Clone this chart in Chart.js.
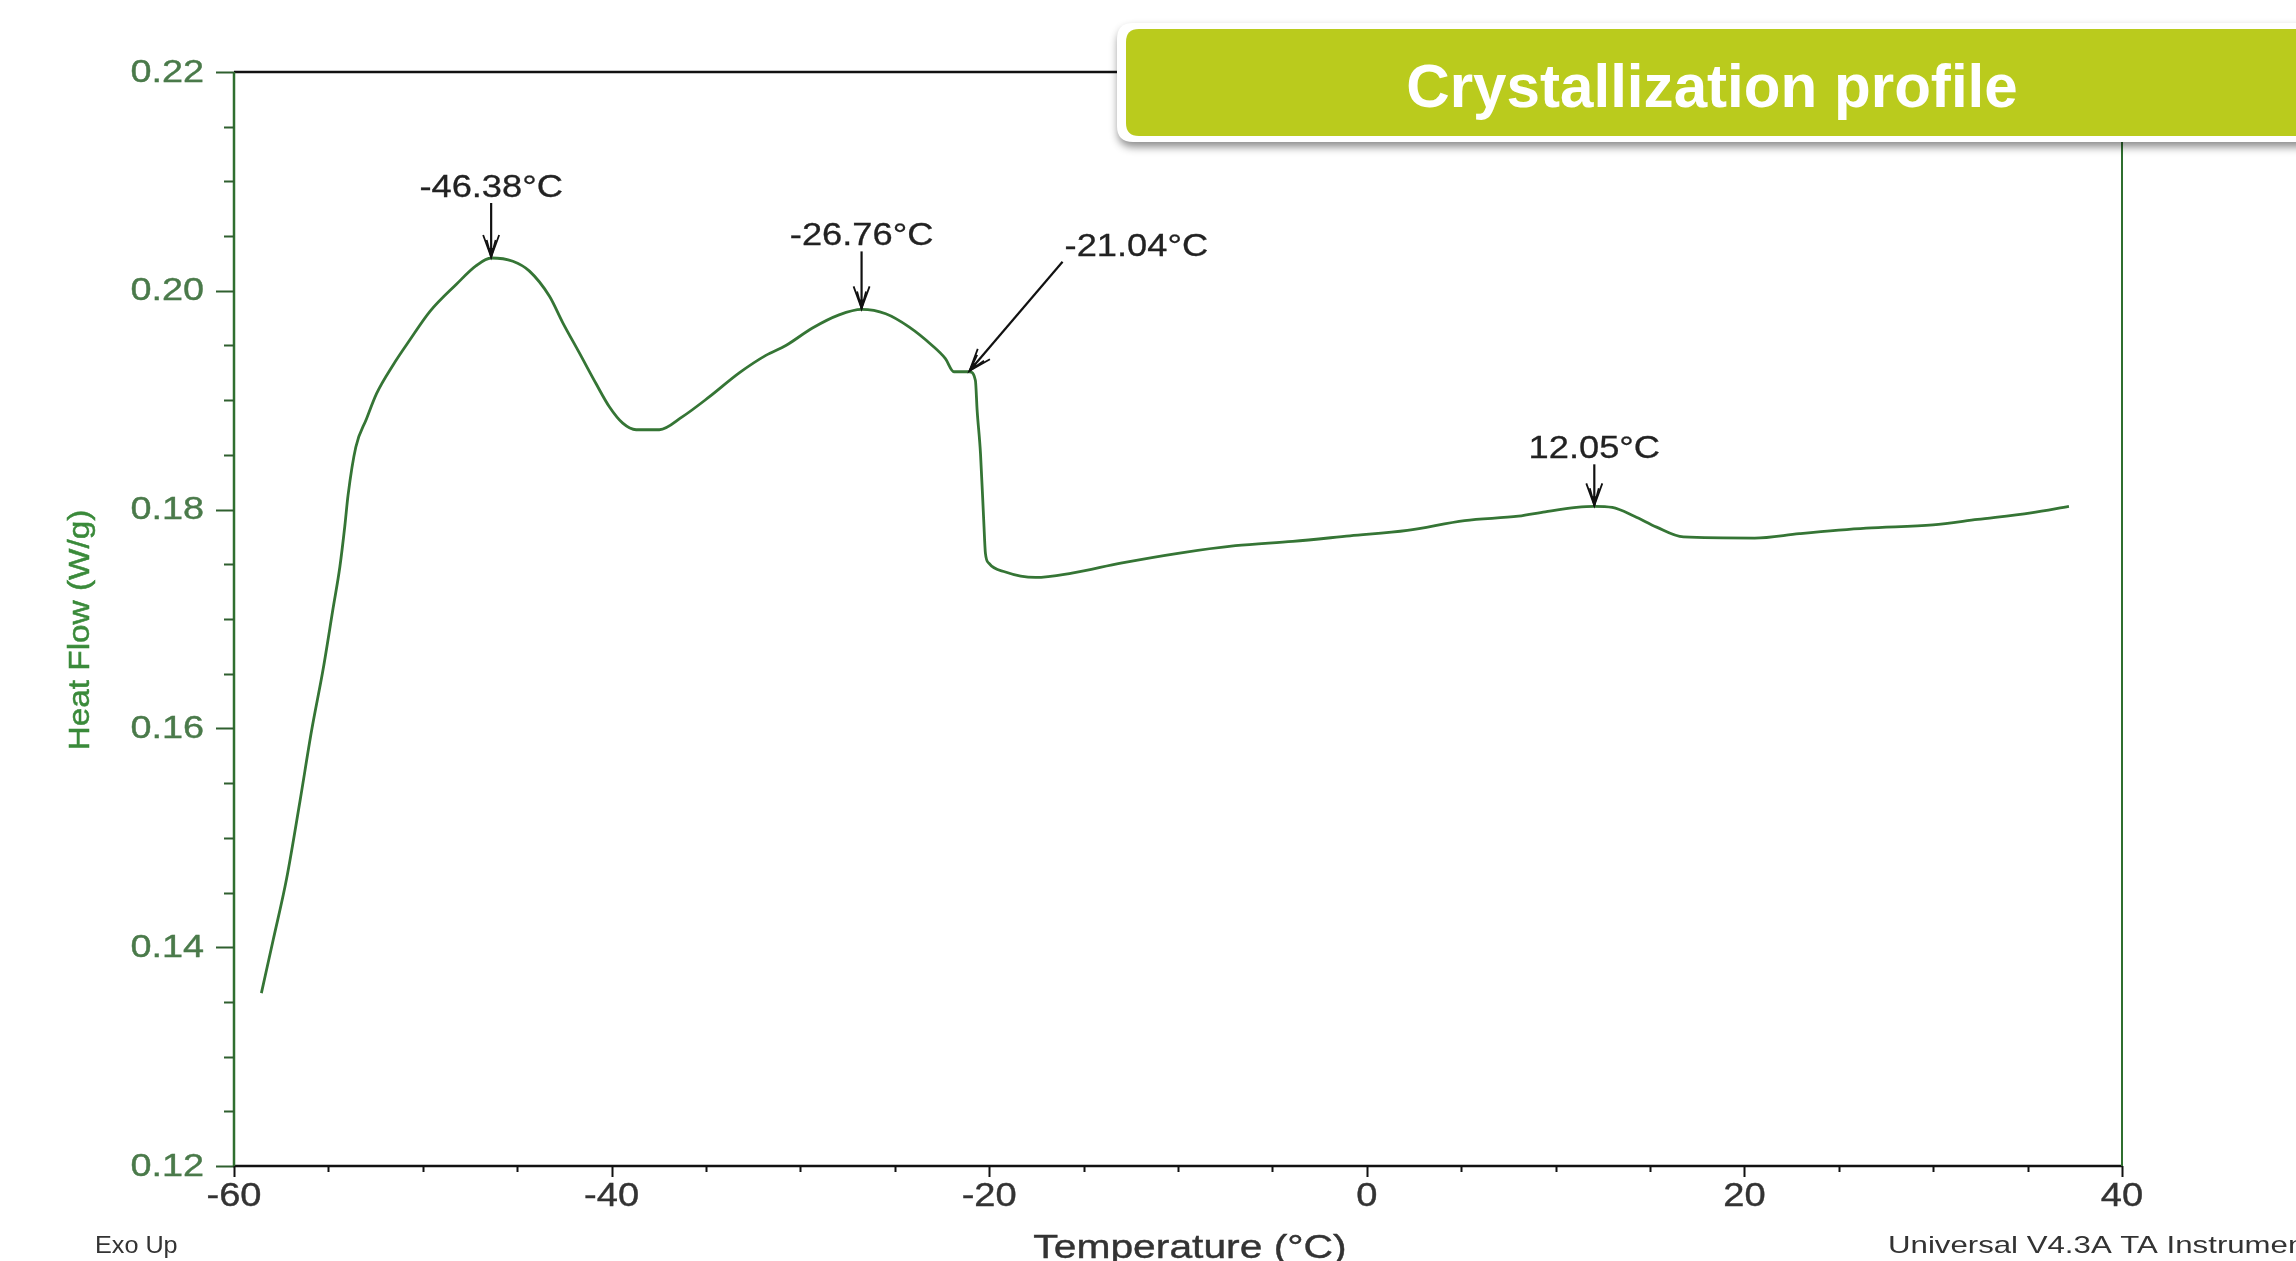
<!DOCTYPE html>
<html>
<head>
<meta charset="utf-8">
<title>Crystallization profile</title>
<script src="https://cdn.jsdelivr.net/npm/chart.js@4.4.1/dist/chart.umd.min.js"></script>
<style>
  html, body { margin: 0; padding: 0; background: #ffffff; overflow: hidden; }
  #wrap { position: relative; width: 2296px; height: 1261px; }
  canvas { display: block; }
</style>
</head>
<body>
<div id="wrap"><canvas id="dsc" width="2296" height="1261"></canvas></div>
<script>
// DSC cooling scan: heat flow (W/g) against temperature (°C)
const temperatureC = [
  -58.55, -57.92, -57.21, -56.51, -55.89, -55.28, -54.75, -54.39, -54.13, -53.96,
  -53.55, -52.98, -52.45, -51.58, -50.69, -49.63, -48.22, -47.17, -46.38, -45.23,
  -44.35, -43.29, -42.59, -41.70, -40.82, -40.12, -39.41, -38.70, -37.47, -36.24,
  -34.83, -33.24, -31.83, -30.77, -29.36, -27.95, -26.76, -25.48, -24.25, -23.02,
  -22.32, -21.87, -21.04, -20.73, -20.64, -20.46, -20.29, -20.20, -20.02, -19.14,
  -17.55, -15.62, -13.03, -10.00, -6.96, -3.92, -0.89, 2.15, 5.18, 8.03,
  9.45, 11.10, 12.05, 13.00, 14.17, 15.35, 16.77, 20.54, 22.91, 26.45,
  29.99, 32.35, 35.18, 37.19
];
const heatFlowWg = [
  0.1358, 0.1407, 0.1463, 0.1533, 0.1598, 0.1654, 0.1710, 0.1748, 0.1785, 0.1813,
  0.1857, 0.1883, 0.1906, 0.1932, 0.1955, 0.1981, 0.2006, 0.2023, 0.2030, 0.2027,
  0.2018, 0.1995, 0.1971, 0.1943, 0.1915, 0.1894, 0.1879, 0.1873, 0.1873, 0.1885,
  0.1903, 0.1925, 0.1941, 0.1950, 0.1966, 0.1978, 0.1983, 0.1979, 0.1967, 0.1950,
  0.1938, 0.1926, 0.1926, 0.1918, 0.1891, 0.1851, 0.1790, 0.1760, 0.1751, 0.1743,
  0.1738, 0.1742, 0.1751, 0.1760, 0.1767, 0.1771, 0.1776, 0.1781, 0.1790, 0.1794,
  0.1798, 0.1802, 0.1803, 0.1802, 0.1794, 0.1784, 0.1775, 0.1774, 0.1778, 0.1783,
  0.1786, 0.1791, 0.1797, 0.1803
];

// Marked events on the curve
const peakTemps  = [-46.38, -26.76, -21.04, 12.05];
const peakFlows  = [0.2030, 0.1983, 0.1926, 0.1803];
const peakLabels = ['-46.38°C', '-26.76°C', '-21.04°C', '12.05°C'];

// Axis ticks
const xTickValues = [-60, -40, -20, 0, 20, 40];
const xTickLabels = ['-60', '-40', '-20', '0', '20', '40'];
const yTickValues = [0.12, 0.14, 0.16, 0.18, 0.20, 0.22];
const yTickLabels = ['0.12', '0.14', '0.16', '0.18', '0.20', '0.22'];

const xTitle = 'Temperature (°C)';
const yTitle = 'Heat Flow (W/g)';
const chartTitle = 'Crystallization profile';
const cornerLeft = 'Exo Up';
const cornerRight = 'Universal V4.3A TA Instruments';

// Arrow offsets (pixels) from each marked point back to the start of its arrow
const calloutArrows = [
  { dx: 0, dy: -54 },
  { dx: 0, dy: -57 },
  { dx: 93, dy: -109 },
  { dx: 0, dy: -41 }
];

const FONT = '"Liberation Sans", Arial, sans-serif';

function drawText(ctx, txt, x, y, size, opts) {
  const o = Object.assign({ sx: 1, align: 'left', baseline: 'alphabetic', color: '#222', weight: 'normal' }, opts || {});
  ctx.save();
  ctx.font = o.weight + ' ' + size + 'px ' + FONT;
  ctx.fillStyle = o.color;
  ctx.textBaseline = o.baseline;
  ctx.textAlign = 'left';
  const w = ctx.measureText(txt).width * o.sx;
  let left = x;
  if (o.align === 'center') left = x - w / 2;
  else if (o.align === 'right') left = x - w;
  ctx.translate(left, y);
  ctx.scale(o.sx, 1);
  ctx.fillText(txt, 0, 0);
  if (o.stroke) {
    ctx.lineWidth = o.stroke;
    ctx.strokeStyle = o.color;
    ctx.strokeText(txt, 0, 0);
  }
  ctx.restore();
}

function drawArrow(ctx, sx, sy, tx, ty) {
  const dx = tx - sx, dy = ty - sy;
  const len = Math.hypot(dx, dy);
  const ux = dx / len, uy = dy / len;
  const nx = -uy, ny = ux;
  ctx.save();
  ctx.strokeStyle = '#111';
  ctx.fillStyle = '#111';
  ctx.lineWidth = 2.2;
  ctx.beginPath();
  ctx.moveTo(sx, sy);
  ctx.lineTo(tx, ty);
  ctx.stroke();
  ctx.lineWidth = 1.8;
  [[22, 8], [17, 4.5]].forEach(([L, W]) => {
    ctx.beginPath();
    ctx.moveTo(tx - ux * L + nx * W, ty - uy * L + ny * W);
    ctx.lineTo(tx, ty);
    ctx.lineTo(tx - ux * L - nx * W, ty - uy * L - ny * W);
    ctx.stroke();
  });
  ctx.beginPath();
  ctx.moveTo(tx, ty);
  ctx.lineTo(tx - ux * 9 + nx * 3, ty - uy * 9 + ny * 3);
  ctx.lineTo(tx - ux * 9 - nx * 3, ty - uy * 9 - ny * 3);
  ctx.closePath();
  ctx.fill();
  ctx.restore();
}

function roundRect(ctx, x, y, w, h, r) {
  ctx.beginPath();
  ctx.moveTo(x + r, y);
  ctx.lineTo(x + w - r, y);
  ctx.quadraticCurveTo(x + w, y, x + w, y + r);
  ctx.lineTo(x + w, y + h - r);
  ctx.quadraticCurveTo(x + w, y + h, x + w - r, y + h);
  ctx.lineTo(x + r, y + h);
  ctx.quadraticCurveTo(x, y + h, x, y + h - r);
  ctx.lineTo(x, y + r);
  ctx.quadraticCurveTo(x, y, x + r, y);
  ctx.closePath();
}

// Axes frame, tick marks, labels, callouts and the heading banner
const decorPlugin = {
  id: 'dscDecor',
  afterDatasetsDraw(chart) {
    const ctx = chart.ctx;
    const xs = chart.scales.x, ys = chart.scales.y;
    const a = chart.chartArea;

    ctx.save();
    ctx.lineCap = 'butt';
    // top and bottom (black)
    ctx.strokeStyle = '#111';
    ctx.lineWidth = 2.5;
    ctx.beginPath(); ctx.moveTo(a.left, a.top); ctx.lineTo(a.right, a.top); ctx.stroke();
    ctx.beginPath(); ctx.moveTo(a.left - 1, a.bottom); ctx.lineTo(a.right + 1, a.bottom); ctx.stroke();
    // left and right (green)
    ctx.strokeStyle = '#2f6f2f';
    ctx.lineWidth = 2.5;
    ctx.beginPath(); ctx.moveTo(a.left, a.top); ctx.lineTo(a.left, a.bottom); ctx.stroke();
    ctx.lineWidth = 2;
    ctx.beginPath(); ctx.moveTo(a.right, a.top); ctx.lineTo(a.right, a.bottom); ctx.stroke();

    // y ticks: major every 0.02, minor every 0.005
    ctx.strokeStyle = '#2f5f2f';
    ctx.lineWidth = 2;
    for (let k = 0; k <= 20; k++) {
      const v = ys.min + k * 0.005;
      const py = Math.round(ys.getPixelForValue(v)) + 0.5;
      const major = k % 4 === 0;
      ctx.beginPath();
      ctx.moveTo(a.left - (major ? 18 : 10), py);
      ctx.lineTo(a.left, py);
      ctx.stroke();
    }
    // x ticks: major every 20, minor every 5
    ctx.strokeStyle = '#111';
    for (let k = 0; k <= 20; k++) {
      const v = xs.min + k * 5;
      const px = Math.round(xs.getPixelForValue(v)) + 0.5;
      const major = k % 4 === 0;
      ctx.beginPath();
      ctx.moveTo(px, a.bottom);
      ctx.lineTo(px, a.bottom + (major ? 11 : 6));
      ctx.stroke();
    }
    ctx.restore();

    // tick labels
    yTickValues.forEach((v, i) => {
      drawText(ctx, yTickLabels[i], a.left - 30, ys.getPixelForValue(v) + 1, 31,
        { sx: 1.22, align: 'right', baseline: 'middle', color: '#4a7a4a', stroke: 0.4 });
    });
    xTickValues.forEach((v, i) => {
      drawText(ctx, xTickLabels[i], xs.getPixelForValue(v), a.bottom + 40, 34,
        { sx: 1.12, align: 'center', color: '#333', stroke: 0.4 });
    });

    // axis titles
    ctx.save();
    ctx.translate(89, (a.top + a.bottom) / 2 + 11);
    ctx.rotate(-Math.PI / 2);
    drawText(ctx, yTitle, 0, 0, 30, { sx: 1.11, align: 'center', color: '#3a8a3a', stroke: 0.5 });
    ctx.restore();
    drawText(ctx, xTitle, 1190, 1258, 34, { sx: 1.2, align: 'center', color: '#333', stroke: 0.4 });
    drawText(ctx, cornerLeft, 95, 1253, 24, { sx: 1.05, color: '#333' });
    drawText(ctx, cornerRight, 1888, 1253, 24, { sx: 1.3, color: '#333' });

    // callouts
    peakTemps.forEach((t, i) => {
      const tx = xs.getPixelForValue(t);
      const ty = ys.getPixelForValue(peakFlows[i]) - 1;
      const off = calloutArrows[i];
      const sx = tx + off.dx, sy = ty + off.dy;
      drawArrow(ctx, sx, sy, tx, ty);
      if (off.dx === 0) {
        drawText(ctx, peakLabels[i], tx, sy - 6, 31, { sx: 1.17, align: 'center', color: '#222', stroke: 0.3 });
      } else {
        drawText(ctx, peakLabels[i], sx + 2, sy - 6, 31, { sx: 1.17, align: 'left', color: '#222', stroke: 0.3 });
      }
    });

    // heading banner
    ctx.save();
    ctx.shadowColor = 'rgba(0,0,0,0.45)';
    ctx.shadowBlur = 9;
    ctx.shadowOffsetY = 5;
    ctx.shadowOffsetX = 1;
    ctx.fillStyle = '#ffffff';
    roundRect(ctx, 1117, 23, 1230, 119, 16);
    ctx.fill();
    ctx.restore();
    ctx.save();
    ctx.fillStyle = '#bacb1d';
    roundRect(ctx, 1126, 29, 1220, 107, 13);
    ctx.fill();
    ctx.restore();
    drawText(ctx, chartTitle, 1712, 107, 62, { sx: 0.97, align: 'center', color: '#ffffff', weight: 'bold' });
  }
};

new Chart(document.getElementById('dsc'), {
  type: 'line',
  data: {
    datasets: [{
      data: temperatureC.map((t, i) => ({ x: t, y: heatFlowWg[i] })),
      borderColor: '#357535',
      borderWidth: 2.8,
      pointRadius: 0,
      fill: false,
      cubicInterpolationMode: 'monotone'
    }]
  },
  options: {
    responsive: false,
    devicePixelRatio: 1,
    animation: false,
    events: [],
    layout: { padding: { top: 72, right: 174, left: 0, bottom: 0 } },
    plugins: { legend: { display: false }, tooltip: { enabled: false }, title: { display: false } },
    scales: {
      x: {
        type: 'linear', min: -60, max: 40,
        grid: { display: false }, border: { display: false },
        ticks: { display: false },
        afterFit(scale) { scale.height = 95; }
      },
      y: {
        type: 'linear', min: 0.12, max: 0.22,
        grid: { display: false }, border: { display: false },
        ticks: { display: false },
        afterFit(scale) { scale.width = 234; }
      }
    }
  },
  plugins: [decorPlugin]
});
</script>
</body>
</html>
